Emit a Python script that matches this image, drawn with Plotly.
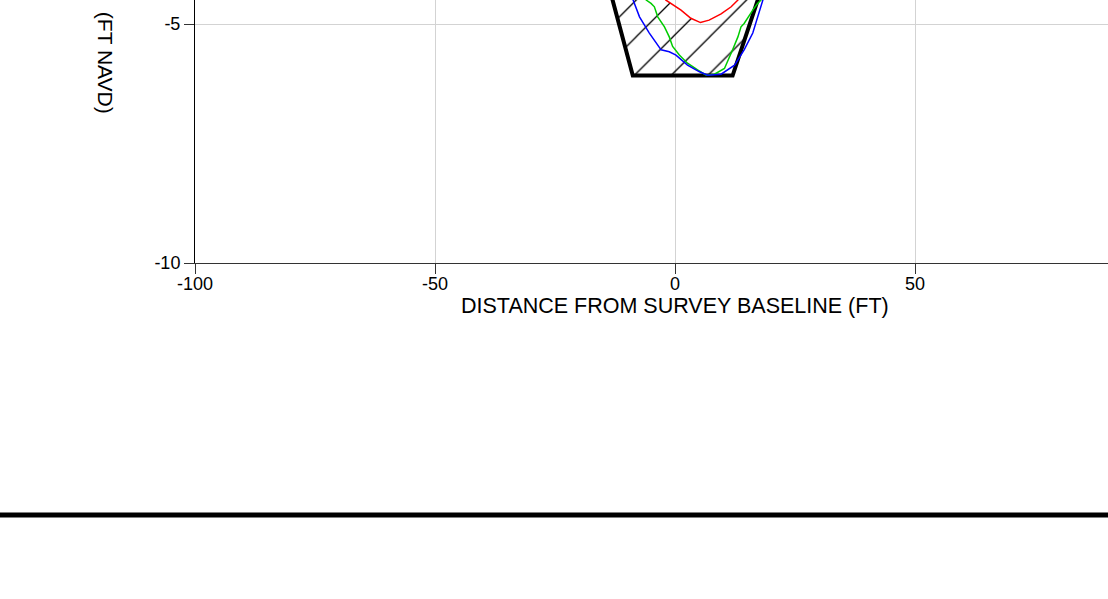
import plotly.graph_objects as go

# Design template (channel trapezoid)
template_x = [-17.0, -8.8, 12.0, 22.2]
template_y = [-3.0, -6.08, -6.08, -3.0]

# Survey profiles
red_x = [-8.0, -5.0, -1.9, 1.25, 3.3, 5.3, 7.1, 9.6, 11.7, 13.1, 15.0, 18.0]
red_y = [-3.6, -4.1, -4.50, -4.71, -4.88, -4.97, -4.92, -4.79, -4.64, -4.50, -4.2, -3.7]

green_x = [-9.0, -6.0, -5.0, -4.3, -3.6, -2.2, -1.2, -0.5, 0.9, 2.6, 4.7, 6.5, 8.2, 10.3,
           12.0, 13.1, 13.75, 14.4, 16.2, 17.2, 17.9, 20.0]
green_y = [-3.9, -4.50, -4.57, -4.64, -4.85, -5.06, -5.27, -5.47, -5.65, -5.82, -5.96, -6.07, -6.05, -5.93,
           -5.54, -5.27, -5.06, -4.99, -4.71, -4.57, -4.50, -4.0]

blue_x = [-11.0, -8.8, -7.4, -5.35, -2.9, -1.2, 0.2, 2.6, 5.1, 6.8, 9.6, 12.4, 14.4, 16.2, 17.2, 18.3, 20.5]
blue_y = [-3.9, -4.50, -4.85, -5.19, -5.54, -5.58, -5.65, -5.86, -6.00, -6.07, -6.05, -5.86, -5.54, -5.19, -4.85, -4.50, -3.9]

x_ticks = [-100, -50, 0, 50]
x_tick_labels = ["-100", "-50", "0", "50"]
y_ticks = [-10, -5]
y_tick_labels = ["-10", "-5"]

x_title = "DISTANCE FROM SURVEY BASELINE (FT)"
y_title = "(FT NAVD)"

FONT = "Liberation Sans, Arial, sans-serif"

fig = go.Figure()

# hatched area: inside template, below red profile
hatch_x = template_x + red_x[::-1] + [template_x[0]]
hatch_y = template_y + red_y[::-1] + [template_y[0]]
fig.add_trace(go.Scatter(
    x=hatch_x, y=hatch_y, mode="lines", line=dict(width=0, color="rgba(0,0,0,0)"),
    fill="toself", fillcolor="rgba(0,0,0,0)",
    fillpattern=dict(shape="/", fgcolor="black", fgopacity=1, bgcolor="rgba(0,0,0,0)",
                     size=26, solidity=0.05),
    hoverinfo="skip", showlegend=False))

fig.add_trace(go.Scatter(x=template_x, y=template_y, mode="lines",
                         line=dict(color="black", width=4), showlegend=False))
fig.add_trace(go.Scatter(x=red_x, y=red_y, mode="lines",
                         line=dict(color="#ff0000", width=1.5), showlegend=False))
fig.add_trace(go.Scatter(x=green_x, y=green_y, mode="lines",
                         line=dict(color="#00cc00", width=1.5), showlegend=False))
fig.add_trace(go.Scatter(x=blue_x, y=blue_y, mode="lines",
                         line=dict(color="#0000ff", width=1.5), showlegend=False))

fig.update_layout(
    width=1108, height=599,
    margin=dict(l=195, r=0, t=0, b=336),
    paper_bgcolor="white", plot_bgcolor="white",
    font=dict(family=FONT, size=18, color="black"),
    showlegend=False,
    xaxis=dict(range=[-100, 90.2], tickvals=x_ticks, ticktext=x_tick_labels,
               ticks="outside", ticklen=10, ticklabelstandoff=-6,
               tickcolor="#333", showgrid=True, gridcolor="#d3d3d3", gridwidth=1,
               showline=True, linecolor="#333", linewidth=1.3, zeroline=False,
               tickfont=dict(size=18)),
    yaxis=dict(range=[-10, -4.498], tickvals=y_ticks, ticktext=y_tick_labels,
               ticks="outside", ticklen=10,
               tickcolor="#333", showgrid=True, gridcolor="#d3d3d3", gridwidth=1,
               showline=True, linecolor="black", linewidth=1, zeroline=False,
               tickfont=dict(size=18)),
    annotations=[
        dict(text=y_title, textangle=90, xref="paper", yref="paper",
             x=-0.0973, y=(263 - 116) / 263, xanchor="center", yanchor="bottom",
             showarrow=False, font=dict(size=21, color="black")),
        dict(text=x_title, xref="x", yref="paper", x=0, y=(263 - 306) / 263,
             xanchor="center", yanchor="middle", showarrow=False,
             font=dict(size=21.5, color="black")),
    ],
    shapes=[dict(type="line", xref="paper", yref="paper",
                 x0=-0.3, x1=1.1, y0=(263 - 515) / 263, y1=(263 - 515) / 263,
                 line=dict(color="black", width=5))],
)

fig.write_html("out.html", post_script="document.body.style.margin='0';",
               config={"displayModeBar": False})
